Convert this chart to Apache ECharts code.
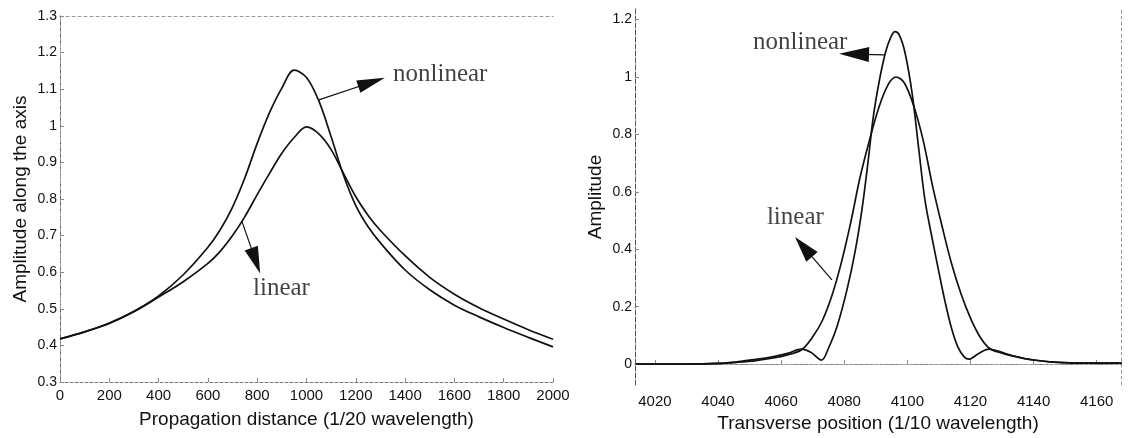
<!DOCTYPE html>
<html>
<head>
<meta charset="utf-8">
<script src="https://cdn.jsdelivr.net/npm/echarts@6/dist/echarts.min.js"></script>
<style>
  html, body { margin: 0; padding: 0; background: #fff; }
  #chart { width: 1128px; height: 438px; }
</style>
</head>
<body>
<div id="chart"></div>
<script>
// On-axis amplitude versus propagation distance (left panel)
const axialDistance  = [0, 100, 200, 300, 400, 500, 600, 650, 700, 750, 800, 850, 900, 950, 1000, 1050, 1100, 1150, 1200, 1250, 1300, 1400, 1500, 1600, 1700, 1800, 1900, 2000];
const axialLinear    = [0.418, 0.437, 0.460, 0.492, 0.532, 0.574, 0.624, 0.657, 0.700, 0.752, 0.812, 0.870, 0.925, 0.968, 0.997, 0.978, 0.935, 0.870, 0.806, 0.755, 0.714, 0.645, 0.586, 0.540, 0.503, 0.472, 0.443, 0.417];
const axialNonlinear = [0.418, 0.437, 0.461, 0.493, 0.535, 0.593, 0.668, 0.716, 0.778, 0.858, 0.952, 1.036, 1.103, 1.152, 1.132, 1.068, 0.970, 0.865, 0.782, 0.724, 0.680, 0.606, 0.552, 0.510, 0.478, 0.449, 0.422, 0.396];
const axialTickValues = [0.3, 0.4, 0.5, 0.6, 0.7, 0.8, 0.9, 1.0, 1.1, 1.2, 1.3];

// Transverse amplitude profile (right panel)
const transPosLinear = [4014, 4030, 4040, 4046, 4052, 4058, 4062, 4066.5, 4070, 4073, 4076, 4079, 4082, 4085, 4088, 4091, 4094, 4096.4, 4099, 4102, 4105, 4108, 4111, 4114, 4117, 4120, 4123, 4126, 4130, 4135, 4140, 4146, 4155, 4168];
const transAmpLinear = [0, 0, 0.002, 0.006, 0.012, 0.022, 0.032, 0.050, 0.095, 0.150, 0.235, 0.350, 0.490, 0.650, 0.780, 0.895, 0.975, 1.000, 0.980, 0.900, 0.780, 0.620, 0.480, 0.350, 0.245, 0.160, 0.095, 0.055, 0.038, 0.024, 0.014, 0.007, 0.003, 0.003];
const transPosNonlinear = [4014, 4030, 4040, 4046, 4052, 4058, 4062, 4066.5, 4069.5, 4072.8, 4075, 4077.7, 4080.9, 4083.5, 4085.6, 4087.5, 4089.2, 4091, 4093, 4094.8, 4096.1, 4097.5, 4099.3, 4101.5, 4103.5, 4105.6, 4108, 4110, 4112, 4114, 4116, 4118, 4119.5, 4122.5, 4125.8, 4129, 4133, 4140, 4150, 4168];
const transAmpNonlinear = [0, 0, 0.002, 0.008, 0.016, 0.027, 0.037, 0.052, 0.040, 0.014, 0.055, 0.130, 0.260, 0.395, 0.537, 0.700, 0.860, 0.980, 1.083, 1.140, 1.158, 1.145, 1.083, 0.944, 0.760, 0.570, 0.430, 0.320, 0.215, 0.125, 0.060, 0.025, 0.017, 0.036, 0.052, 0.044, 0.030, 0.014, 0.005, 0.003];
const transTickValues = [0, 0.2, 0.4, 0.6, 0.8, 1.0, 1.2];
const transPosTicks = [4020, 4040, 4060, 4080, 4100, 4120, 4140, 4160];

const pairs = (xs, ys) => xs.map((x, i) => [x, ys[i]]);
const fmt = v => String(+v.toFixed(1));
const plain = v => String(Math.round(v));

const SANS = '"Liberation Sans", Arial, sans-serif';
const SERIF = '"Liberation Serif", "Times New Roman", serif';
const INK = '#111';

function frameAxis(extra) {
  return Object.assign({
    type: 'value',
    axisLabel: { show: false },
    axisTick: { show: false },
    splitLine: { show: false },
    axisLine: { show: true, lineStyle: { color: '#9a9a9a', width: 1, type: [3, 3] } }
  }, extra);
}

function curve(name, data, idx) {
  return {
    name, type: 'line', data,
    xAxisIndex: idx, yAxisIndex: idx,
    showSymbol: false, smooth: 0.35, silent: true,
    lineStyle: { color: INK, width: 1.7 },
    z: 3
  };
}

function arrow(idx, from, to, size) {
  return {
    type: 'line', data: [], xAxisIndex: idx, yAxisIndex: idx, silent: true,
    markLine: {
      silent: true, animation: false,
      symbol: ['none', 'triangle'], symbolSize: size,
      lineStyle: { color: INK, width: 1.2, type: 'solid' },
      itemStyle: { color: INK },
      label: { show: false },
      data: [[{ coord: from }, { coord: to }]]
    }
  };
}

function tag(idx, text, at) {
  return {
    type: 'scatter', xAxisIndex: idx, yAxisIndex: idx, silent: true,
    symbolSize: 0,
    data: [{ value: at }],
    label: {
      show: true, position: 'right', distance: 0, formatter: text,
      fontFamily: SERIF, fontSize: 25, color: INK
    },
    z: 4
  };
}

const chart = echarts.init(document.getElementById('chart'), null, { renderer: 'canvas' });

chart.setOption({
  backgroundColor: '#ffffff',
  animation: false,
  grid: [
    { left: 60, top: 16, width: 493, height: 366 },
    { left: 635, top: 9, width: 486, height: 376 }
  ],
  xAxis: [
    {
      type: 'value', gridIndex: 0, min: 0, max: 2000, interval: 200,
      name: 'Propagation distance (1/20 wavelength)', nameLocation: 'middle', nameGap: 28,
      nameTextStyle: { fontFamily: SANS, fontSize: 19, color: INK },
      axisLine: { lineStyle: { color: '#777', width: 1, type: [3, 2] } },
      axisTick: { inside: true, length: 4, lineStyle: { color: '#888' } },
      axisLabel: { fontFamily: SANS, fontSize: 15, color: INK, margin: 6, formatter: plain },
      splitLine: { show: false }
    },
    {
      type: 'value', gridIndex: 1, min: 4013.7, max: 4167.7,
      name: 'Transverse position (1/10 wavelength)', nameLocation: 'middle', nameGap: 27,
      nameTextStyle: { fontFamily: SANS, fontSize: 19, color: INK },
      axisLine: { lineStyle: { color: '#777', width: 1, type: [3, 2] } },
      axisTick: { inside: true, length: 4, lineStyle: { color: '#888' }, customValues: transPosTicks },
      axisLabel: { fontFamily: SANS, fontSize: 15, color: INK, margin: 9, formatter: plain, customValues: transPosTicks },
      splitLine: { show: false }
    },
    frameAxis({ gridIndex: 0, position: 'top', min: 0, max: 2000 }),
    frameAxis({ gridIndex: 1, position: 'top', min: 4013.7, max: 4167.7 })
  ],
  yAxis: [
    {
      type: 'value', gridIndex: 0, min: 0.3, max: 1.3,
      name: 'Amplitude along the axis', nameLocation: 'middle', nameGap: 30, nameRotate: 90,
      nameTextStyle: { fontFamily: SANS, fontSize: 19, color: INK },
      axisLine: { show: true, lineStyle: { color: '#555', width: 1, type: [5, 2] } },
      axisTick: { show: true, inside: true, length: 4, lineStyle: { color: '#888' }, customValues: axialTickValues },
      axisLabel: { fontFamily: SANS, fontSize: 14, color: INK, margin: 3, formatter: fmt, customValues: axialTickValues },
      splitLine: { show: false }
    },
    {
      type: 'value', gridIndex: 1, min: -0.073, max: 1.237,
      name: 'Amplitude', nameLocation: 'middle', nameGap: 30, nameRotate: 90,
      nameTextStyle: { fontFamily: SANS, fontSize: 19, color: INK },
      axisLine: { show: true, lineStyle: { color: '#555', width: 1, type: [5, 2] } },
      axisTick: { show: true, inside: true, length: 4, lineStyle: { color: '#888' }, customValues: transTickValues },
      axisLabel: { fontFamily: SANS, fontSize: 14, color: INK, margin: 3, formatter: fmt, customValues: transTickValues },
      splitLine: { show: false }
    },
    frameAxis({ gridIndex: 0, position: 'right', min: 0.3, max: 1.3 }),
    frameAxis({ gridIndex: 1, position: 'right', min: -0.073, max: 1.237 })
  ],
  series: [
    curve('linear', pairs(axialDistance, axialLinear), 0),
    curve('nonlinear', pairs(axialDistance, axialNonlinear), 0),
    curve('linear', pairs(transPosLinear, transAmpLinear), 1),
    curve('nonlinear', pairs(transPosNonlinear, transAmpNonlinear), 1),

    arrow(0, [1047, 1.07], [1264, 1.119], [13, 28]),
    arrow(0, [738, 0.739], [794, 0.631], [14, 27]),
    arrow(1, [4092.6, 1.077], [4083.1, 1.08], [15, 30]),
    arrow(1, [4076.1, 0.293], [4067.1, 0.408], [15, 26]),

    tag(0, 'nonlinear', [1351, 1.139]),
    tag(0, 'linear', [783, 0.557]),
    tag(1, 'nonlinear', [4051.1, 1.122]),
    tag(1, 'linear', [4055.5, 0.512])
  ]
});
</script>
</body>
</html>
